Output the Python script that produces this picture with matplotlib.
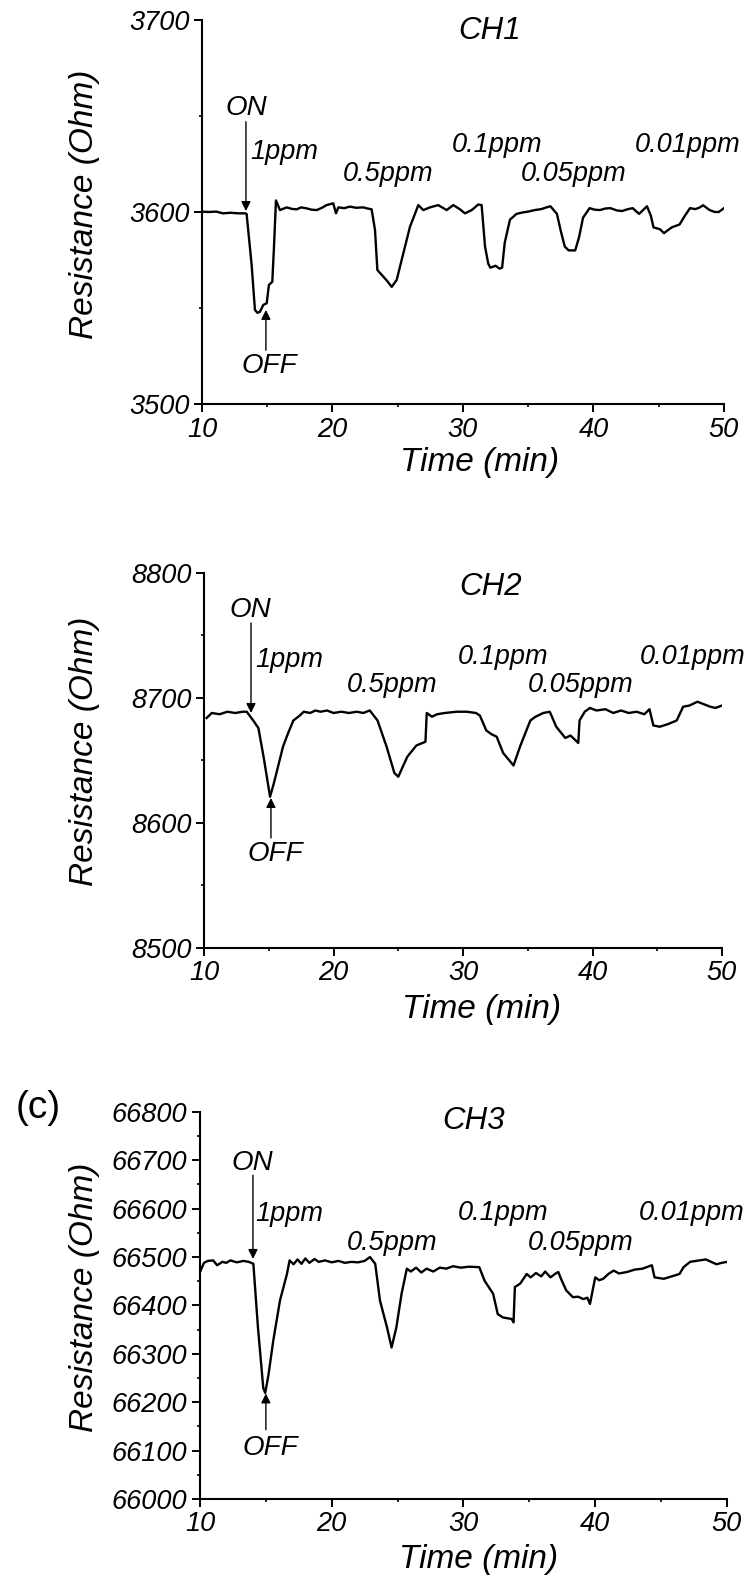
import matplotlib
matplotlib.use("Agg")
import matplotlib.pyplot as plt
from matplotlib.ticker import MultipleLocator

# ---------------- data ----------------
ch1_time = [10.0, 10.5, 11.1, 11.6, 12.2, 12.8, 13.3, 13.42, 13.8, 14.06, 14.25, 14.44, 14.7,
            14.96, 15.13, 15.39, 15.52, 15.67, 15.98, 16.49, 16.9, 17.26, 17.6, 18.02, 18.4,
            18.79, 19.2, 19.55, 20.06, 20.27, 20.45, 20.9, 21.34, 21.8, 22.36, 22.7, 23.0,
            23.26, 23.44, 23.9, 24.2, 24.54, 24.92, 25.43, 25.94, 26.58, 26.96, 27.47, 28.1,
            28.75, 29.26, 29.77, 30.15, 30.67, 31.17, 31.43, 31.69, 31.94, 32.1, 32.5, 32.8,
            33.0, 33.2, 33.6, 34.1, 34.6, 35.0, 35.5, 36.0, 36.4, 36.7, 37.2, 37.5, 37.8,
            38.1, 38.6, 38.9, 39.2, 39.7, 40.1, 40.5, 40.9, 41.3, 41.8, 42.2, 42.6, 43.0,
            43.5, 44.1, 44.4, 44.6, 45.1, 45.4, 46.0, 46.6, 47.0, 47.4, 47.8, 48.1, 48.4,
            48.9, 49.3, 49.6, 50.0]
ch1_res = [3600.2, 3600.0, 3600.2, 3599.3, 3599.6, 3599.3, 3599.3, 3599.0, 3573.0, 3549.0,
           3547.5, 3548.0, 3551.6, 3552.5, 3562.0, 3563.7, 3582.0, 3606.0, 3601.0, 3602.4,
           3601.6, 3601.4, 3602.4, 3601.9, 3601.2, 3601.0, 3602.2, 3603.6, 3604.5, 3599.3,
           3602.4, 3602.0, 3602.8, 3602.2, 3602.4, 3601.8, 3601.4, 3590.6, 3569.8, 3566.3,
           3564.0, 3561.0, 3564.6, 3578.5, 3592.3, 3603.6, 3601.0, 3602.4, 3603.6, 3601.0,
           3603.6, 3601.4, 3599.3, 3601.0, 3603.9, 3603.6, 3582.0, 3573.0, 3571.0, 3572.0,
           3570.5, 3571.0, 3584.0, 3596.0, 3599.0, 3599.8, 3600.2, 3601.0, 3601.5, 3602.4,
           3603.0, 3599.0, 3590.0, 3582.0, 3580.0, 3580.0, 3587.0, 3597.0, 3602.0, 3601.2,
           3601.0, 3601.8, 3602.0, 3600.8, 3600.5, 3601.4, 3602.0, 3599.0, 3603.0, 3598.0,
           3592.0, 3591.0, 3589.0, 3592.0, 3593.5, 3598.0, 3602.0, 3601.5, 3602.2, 3603.5,
           3601.0, 3600.0, 3600.0, 3602.0]

ch2_time = [10.2, 10.6, 11.2, 11.8, 12.4, 13.0, 13.3, 13.8, 14.2, 14.6, 15.1, 15.4, 16.1,
            16.5, 16.9, 17.4, 17.7, 18.2, 18.6, 19.0, 19.5, 20.0, 20.6, 21.2, 21.8, 22.3,
            22.8, 23.4, 24.1, 24.7, 25.0, 25.7, 26.4, 27.1, 27.2, 27.6, 28.0, 28.6, 29.5,
            30.3, 31.0, 31.3, 31.8, 32.2, 32.6, 33.1, 33.9, 34.4, 35.2, 35.6, 36.2, 36.7,
            37.2, 37.9, 38.3, 38.9, 39.0, 39.4, 39.8, 40.3, 41.0, 41.6, 42.2, 42.8, 43.4,
            44.0, 44.4, 44.7, 45.2, 45.8, 46.5, 47.0, 47.5, 48.1, 48.6, 49.1, 49.5, 50.0]
ch2_res = [8684, 8688, 8687, 8689, 8688, 8689, 8689, 8682, 8676, 8653, 8621, 8632, 8661,
           8672, 8682, 8686, 8689, 8688, 8690, 8689, 8690, 8688, 8689, 8688, 8689, 8688,
           8690, 8682, 8661, 8640, 8637, 8653, 8662, 8665, 8688, 8685, 8687, 8688, 8689,
           8689, 8688, 8686, 8674, 8671, 8669, 8656, 8646, 8661, 8682, 8685, 8688, 8689,
           8677, 8668, 8670, 8664, 8682, 8689, 8692, 8690, 8691, 8688, 8690, 8688, 8689,
           8687, 8691, 8678, 8677, 8679, 8682, 8693, 8694, 8697, 8695, 8693, 8692, 8694]

ch3_time = [10.05, 10.3, 10.6, 11.0, 11.3, 11.7, 12.0, 12.3, 12.8, 13.3, 13.7, 14.05, 14.4,
            14.8, 14.95, 15.2, 15.56, 16.07, 16.6, 16.8, 17.1, 17.4, 17.7, 18.0, 18.3, 18.7,
            19.0, 19.5, 20.0, 20.5, 21.0, 21.5, 22.0, 22.5, 22.9, 23.3, 23.66, 24.2, 24.54,
            24.9, 25.3, 25.7, 26.0, 26.4, 26.8, 27.2, 27.7, 28.2, 28.7, 29.2, 29.8, 30.4,
            31.2, 31.6, 32.25, 32.6, 33.0, 33.65, 33.8, 33.9, 34.3, 34.8, 35.1, 35.5, 35.9,
            36.2, 36.6, 37.0, 37.2, 37.4, 37.8, 38.3, 38.7, 39.1, 39.4, 39.6, 40.0, 40.3,
            40.6, 41.0, 41.4, 41.8, 42.4, 43.0, 43.6, 44.3, 44.5, 45.2, 45.8, 46.4, 46.7,
            47.2, 47.9, 48.4, 48.8, 49.2, 49.6, 50.0]
ch3_res = [66472, 66488, 66492, 66493, 66483, 66490, 66488, 66493, 66489, 66492, 66490,
           66486, 66354, 66230, 66219, 66257, 66327, 66410, 66465, 66493, 66485, 66495,
           66486, 66497, 66488, 66496, 66490, 66493, 66489, 66492, 66488, 66490, 66489,
           66492, 66500, 66486, 66410, 66354, 66313, 66354, 66424, 66476, 66470, 66478,
           66468, 66476, 66470, 66478, 66476, 66481, 66478, 66480, 66479, 66451, 66424,
           66382, 66375, 66372, 66365, 66438, 66445, 66465, 66458, 66467, 66460, 66470,
           66458, 66466, 66469, 66455, 66431, 66417, 66418, 66413, 66416, 66403, 66458,
           66452, 66455, 66465, 66472, 66466, 66469, 66474, 66476, 66483, 66458, 66455,
           66460, 66465, 66479, 66490, 66493, 66495, 66490, 66485, 66488, 66490]

titles = ["CH1", "CH2", "CH3"]
y_limits = [(3500, 3700), (8500, 8800), (66000, 66800)]
y_ticks = [[3500, 3600, 3700],
           [8500, 8600, 8700, 8800],
           [66000, 66100, 66200, 66300, 66400, 66500, 66600, 66700, 66800]]
x_ticks = [10, 20, 30, 40, 50]
conc_labels = ["1ppm", "0.5ppm", "0.1ppm", "0.05ppm", "0.01ppm"]

# gas on / off events: (time, arrow tail, arrow tip) per channel
on_events = [(13.37, 3647, 3600.5), (13.63, 8760, 8688), (14.02, 66669, 66496)]
off_events = [(14.9, 3528, 3549), (15.17, 8588, 8620), (15.0, 66143, 66218)]

# label anchor positions (time, resistance) for each channel
on_text = [(13.37, 3654), (13.55, 8770), (13.95, 66694)]
off_text = [(15.13, 3520), (15.48, 8575), (15.31, 66106)]
conc_pos = [
    [(13.68, 3631), (24.25, 3620), (32.6, 3635), (38.5, 3620), (47.2, 3635)],
    [(13.94, 8730), (24.5, 8710), (33.1, 8733), (39.1, 8710), (47.7, 8733)],
    [(14.17, 66588), (24.57, 66530), (33.0, 66590), (38.9, 66530), (47.3, 66590)],
]
title_pos = [(32.07, 3694), (32.1, 8789), (30.8, 66781)]

series_t = [ch1_time, ch2_time, ch3_time]
series_r = [ch1_res, ch2_res, ch3_res]

# ---------------- figure ----------------
plt.rcParams["font.family"] = ["Liberation Sans", "DejaVu Sans"]
plt.rcParams["font.style"] = "italic"

fig = plt.figure(figsize=(7.55, 15.85), dpi=100)

axes_rects = [
    (0.2675, 0.7451, 0.6914, 0.2423),
    (0.2702, 0.4019, 0.6861, 0.2366),
    (0.2649, 0.0543, 0.6980, 0.2442),
]
xlabel_xy = [(0.532, -0.112), (0.535, -0.123), (0.528, -0.116)]
ylabel_xy = [(-0.195, 0.521), (-0.2008, 0.525), (-0.19, 0.522)]

for i in range(3):
    ax = fig.add_axes(axes_rects[i])
    ax.plot(series_t[i], series_r[i], color="black", lw=1.7)
    ax.set_xlim(10, 50)
    ax.set_ylim(*y_limits[i])
    ax.set_xticks(x_ticks)
    ax.set_yticks(y_ticks[i])
    ax.xaxis.set_minor_locator(MultipleLocator(5))
    ax.yaxis.set_minor_locator(MultipleLocator(50))
    for s in ("top", "right"):
        ax.spines[s].set_visible(False)
    for s in ("left", "bottom"):
        ax.spines[s].set_linewidth(1.5)
    ax.tick_params(which="major", direction="out", length=6, width=1.4,
                   labelsize=19.5, pad=3)
    ax.tick_params(which="minor", direction="out", length=2.5, width=1.2)
    for lab in ax.get_xticklabels() + ax.get_yticklabels():
        lab.set_fontstyle("italic")

    ax.set_xlabel("Time (min)", fontsize=24, fontstyle="italic")
    ax.xaxis.set_label_coords(*xlabel_xy[i])
    ax.set_ylabel("Resistance (Ohm)", fontsize=24, fontstyle="italic")
    ax.yaxis.set_label_coords(*ylabel_xy[i])

    ax.text(*title_pos[i], titles[i], fontsize=22.5, ha="center", va="center",
            fontstyle="italic")

    # gas switched on / off
    t_on, tail_on, tip_on = on_events[i]
    ax.annotate("", xy=(t_on, tip_on), xytext=(t_on, tail_on),
                arrowprops=dict(arrowstyle="-|>", color="black", lw=1.0,
                                mutation_scale=14, shrinkA=0, shrinkB=0))
    t_off, tail_off, tip_off = off_events[i]
    ax.annotate("", xy=(t_off, tip_off), xytext=(t_off, tail_off),
                arrowprops=dict(arrowstyle="-|>", color="black", lw=1.0,
                                mutation_scale=14, shrinkA=0, shrinkB=0))
    ax.text(*on_text[i], "ON", fontsize=20, ha="center", va="center",
            fontstyle="italic")
    ax.text(*off_text[i], "OFF", fontsize=20, ha="center", va="center",
            fontstyle="italic")

    for j, lab in enumerate(conc_labels):
        x, y = conc_pos[i][j]
        ax.text(x, y, lab, fontsize=19.5, ha="left" if j == 0 else "center",
                va="center", fontstyle="italic", clip_on=False)

fig.text(0.0503, 0.3009, "(c)", fontsize=28, ha="center", va="center",
         fontstyle="normal")

fig.savefig("out.png", dpi=100, facecolor="white")
